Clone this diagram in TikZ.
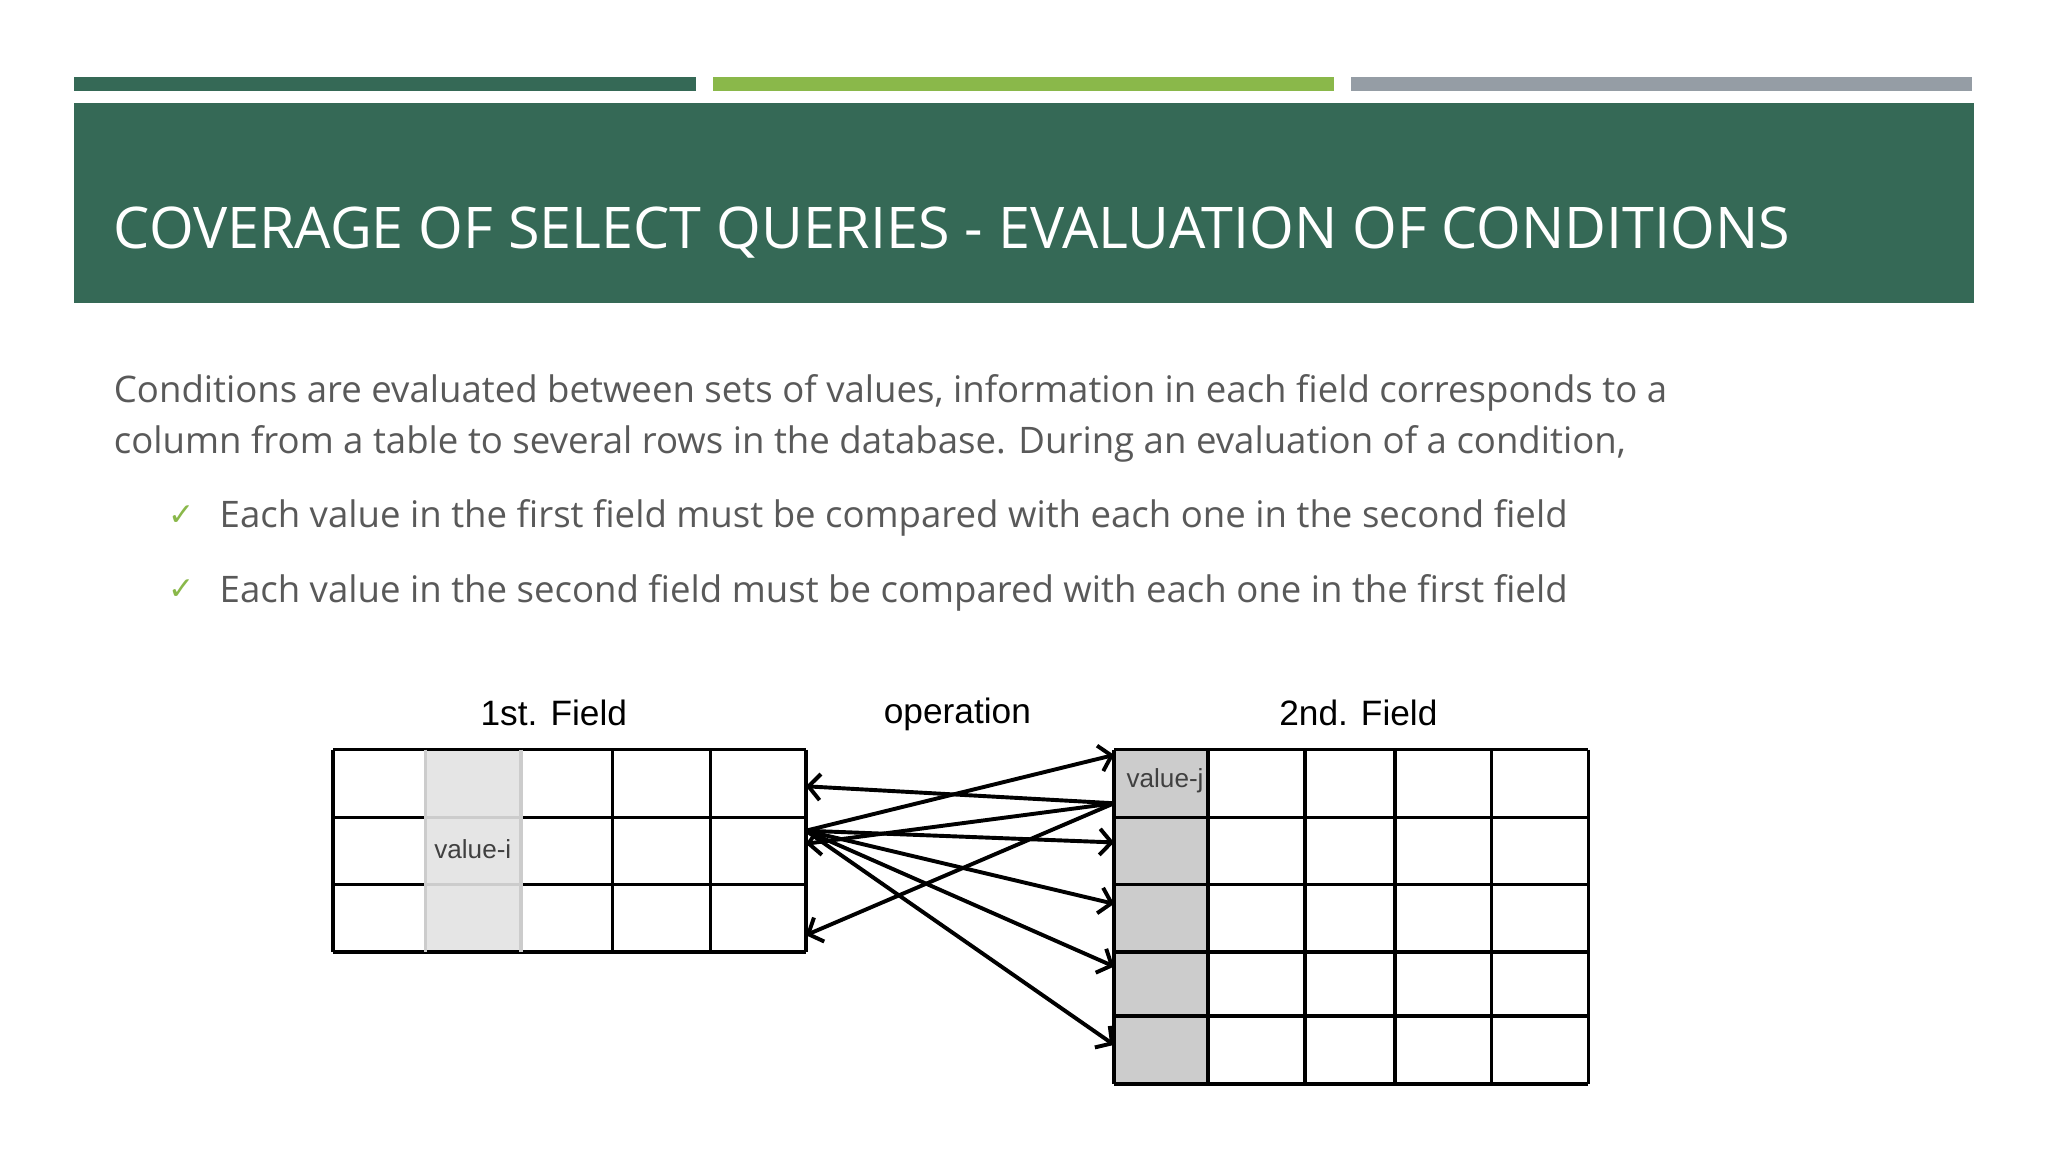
\documentclass[tikz,border=0pt]{standalone}
\usepackage{fontspec}
\setmainfont{Open Sans}
\newfontfamily\arialf{Liberation Sans}
\usetikzlibrary{arrows.meta}
\definecolor{dkgreen}{HTML}{356956}
\definecolor{ltgreen}{HTML}{8AB84A}
\definecolor{barg}{HTML}{959DA5}
\definecolor{txtg}{HTML}{595959}
\tikzset{
  hdr/.style={font=\fontsize{44}{50}\selectfont, text=white, anchor=base west, inner sep=0},
  body/.style={font=\fontsize{28}{34}\selectfont, text=txtg, anchor=base west, inner sep=0},
  chk/.style={font=\fontsize{24}{28}\selectfont, text=ltgreen, anchor=base west, inner sep=0},
  flab/.style={font=\arialf\fontsize{27}{30}\selectfont, inner sep=0},
  vlab/.style={font=\arialf\fontsize{20}{22}\selectfont, text=black!75, inner sep=0},
  grid/.style={line width=2.6pt, black},
  arr/.style={line width=3pt, -{Straight Barb[length=9pt,width=20pt,line width=3pt]}}
}
\begin{document}
\begin{tikzpicture}[x=1pt,y=-1pt]
\useasboundingbox (0,0) rectangle (1568,882);
\fill[white] (0,0) rectangle (1568,882);
% bars
\fill[dkgreen] (57,59) rectangle (533,70);
\fill[ltgreen] (546,59) rectangle (1021,70);
\fill[barg] (1034,59) rectangle (1510,70);
\fill[dkgreen] (57,79) rectangle (1511,232);
\node[hdr] (title) at (87,190) {COVERAGE OF SELECT QUERIES - EVALUATION OF CONDITIONS};
\node[body] (p1) at (87,308) {Conditions are evaluated between sets of values, information in each field corresponds to a};
\node[body] (p2) at (87,347) {column from a table to several rows in the database. During an evaluation of a condition,};
\node[chk] (c1) at (129,402) {\fontspec{DejaVu Sans}✓};
\node[body] (b1) at (168,404) {Each value in the first field must be compared with each one in the second field};
\node[chk] (c2) at (129,459) {\fontspec{DejaVu Sans}✓};
\node[body] (b2) at (168,461) {Each value in the second field must be compared with each one in the first field};
% labels
\node[flab] (f1) at (424,546) {1st. Field};
\node[flab] (op) at (733,547) {operation};
\node[flab] (f2) at (1040,546) {2nd. Field};
% left table
\fill[black!10] (326,574) rectangle (399,729);
\foreach \y in {574,626,677,729} \draw[grid] (255,\y) -- (617,\y);
\foreach \x in {255,326,399,469,544,617} \draw[grid] (\x,574) -- (\x,729);
\draw[line width=2.6pt, black!20] (326,574) -- (326,729) (399,574) -- (399,729);
\draw[line width=2.6pt, black!20] (326,626) -- (399,626) (326,677) -- (399,677);
\node[vlab] (vi) at (362,650) {value-i};
% right table
\fill[black!20] (853,574) rectangle (925,830);
\foreach \y in {574,626,677,729,778,830} \draw[grid] (853,\y) -- (1216,\y);
\foreach \x in {853,925,999,1068,1142,1216} \draw[grid] (\x,574) -- (\x,830);
\node[vlab] (vj) at (892,598) {value-j};
% arrows
\coordinate (L) at (617,636);
\coordinate (R) at (853,615);
\coordinate (r1) at (853,578);
\coordinate (r2) at (853,645);
\coordinate (r3) at (853,692);
\coordinate (r4) at (853,740);
\coordinate (r5) at (853,800);
\coordinate (l1) at (617,602);
\coordinate (l2) at (617,646);
\coordinate (l3) at (617,716);
\foreach \t in {r1,r2,r3,r4,r5} \draw[arr] (L) -- (\t);
\foreach \t in {l1,l2,l3} \draw[arr] (R) -- (\t);
\end{tikzpicture}
\end{document}
